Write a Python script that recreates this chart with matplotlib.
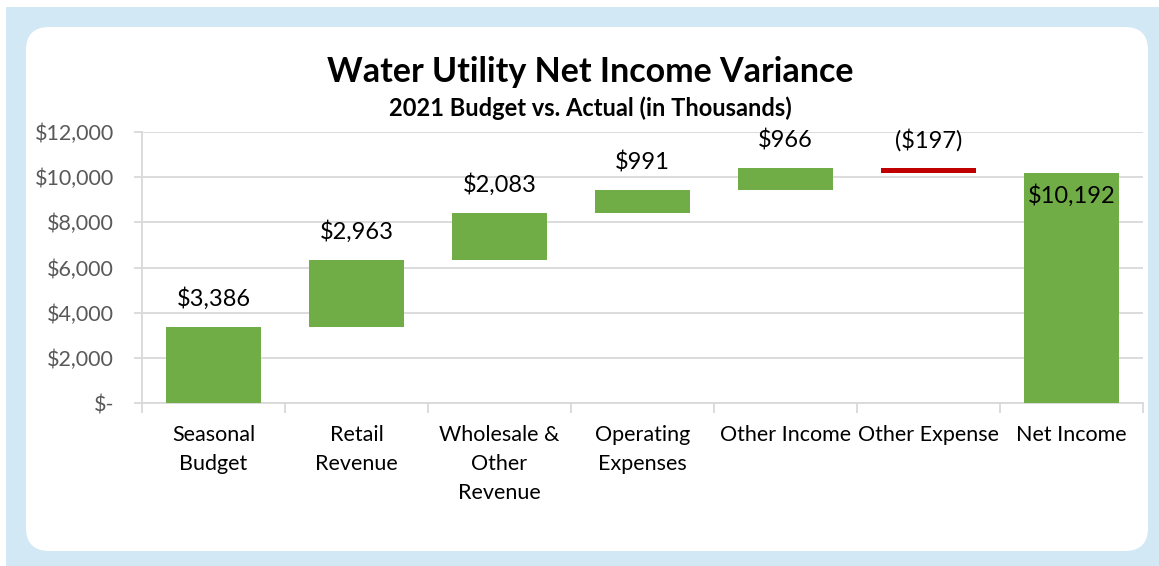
import matplotlib.pyplot as plt
import numpy as np
from matplotlib.patches import FancyBboxPatch, Rectangle
from matplotlib.ticker import FuncFormatter

plt.rcParams['font.family'] = ['Lato', 'DejaVu Sans']

categories = ['Seasonal\nBudget', 'Retail\nRevenue', 'Wholesale &\nOther\nRevenue',
              'Operating\nExpenses', 'Other Income', 'Other Expense', 'Net Income']
changes = [3386, 2963, 2083, 991, 966, -197]
net_income = 10192
labels = ['$3,386', '$2,963', '$2,083', '$991', '$966', '($197)', '$10,192']

GREEN = '#70AD47'
RED = '#C00000'
GRID = '#D9D9D9'

W, H = 1159, 566
fig = plt.figure(figsize=(W / 100, H / 100), dpi=100)

# background frame
fig.patches.append(Rectangle((6 / W, 0), 1 - 6 / W, 1 - 7 / H, transform=fig.transFigure,
                             facecolor='#D2E8F4', edgecolor='none', zorder=-2))
fig.patches.append(FancyBboxPatch((26 / W, 15 / H), (1148 - 26) / W, (539 - 15) / H,
                                  boxstyle='round,pad=0,rounding_size=0.02',
                                  mutation_aspect=W / H,
                                  transform=fig.transFigure,
                                  facecolor='white', edgecolor='none', zorder=-1))

ax = fig.add_axes([142 / W, 163 / H, (1143 - 142) / W, (403 - 132) / H])
ax.set_zorder(2)
ax.patch.set_alpha(0)

# waterfall bottoms
cum = np.cumsum(changes)
starts = np.concatenate([[0], cum[:-1]])
x = np.arange(len(categories))
bar_w = 0.66

for i, (s, c) in enumerate(zip(starts, changes)):
    bottom = s + min(c, 0)
    color = GREEN if c >= 0 else RED
    ax.bar(x[i], abs(c), bottom=bottom, width=bar_w, color=color, zorder=3)
    top = max(s, s + c)
    ax.annotate(labels[i], (x[i], top), xytext=(0, 12), textcoords='offset points',
                ha='center', va='bottom', fontsize=17, color='black')

ax.bar(x[-1], net_income, width=bar_w, color=GREEN, zorder=3)
ax.annotate(labels[-1], (x[-1], net_income), xytext=(0, -8), textcoords='offset points',
            ha='center', va='top', fontsize=17, color='black')

ax.set_ylim(0, 12000)
ax.set_xlim(-0.5, len(categories) - 0.5)
ax.set_yticks(np.arange(0, 12001, 2000))
ax.yaxis.set_major_formatter(FuncFormatter(lambda v, p: '$-' if v == 0 else f'${v:,.0f}'))
ax.grid(axis='y', color=GRID, linewidth=1.3, zorder=0)

ax.set_xticks(x)
ax.set_xticklabels(categories, fontsize=15.5, color='black', linespacing=1.55, va='top')
ax.set_xticks(np.arange(-0.5, len(categories)), minor=True)
ax.tick_params(axis='x', which='major', length=0, pad=16)
ax.tick_params(axis='x', which='minor', length=7, color=GRID, width=1.3)
ax.tick_params(axis='y', length=6, color=GRID, width=1.3, labelsize=15.5,
               labelcolor='#595959', pad=14)

for side in ['top', 'right']:
    ax.spines[side].set_visible(False)
for side in ['left', 'bottom']:
    ax.spines[side].set_color(GRID)
    ax.spines[side].set_linewidth(1.3)

fig.text(0.509, 1 - 72 / H, 'Water Utility Net Income Variance', ha='center', va='center',
         fontsize=24.5, fontweight='bold', color='black')
fig.text(0.509, 1 - 108 / H, '2021 Budget vs. Actual (in Thousands)', ha='center', va='center',
         fontsize=17, fontweight='bold', color='black')

fig.savefig('out.png', dpi=100)
